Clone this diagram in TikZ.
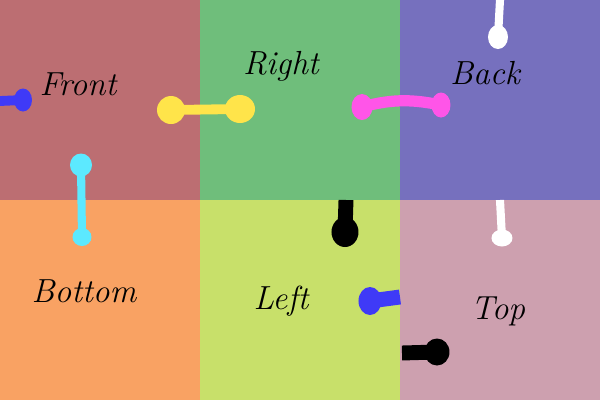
\documentclass[tikz,border=0pt]{standalone}
\usepackage{tikz}
\usetikzlibrary{positioning,calc}
\definecolor{frontred}{HTML}{BC6E72}
\definecolor{rightgreen}{HTML}{6FBE7B}
\definecolor{backblue}{HTML}{7670BE}
\definecolor{bottomorange}{HTML}{F9A263}
\definecolor{leftlime}{HTML}{C8E06A}
\definecolor{toppink}{HTML}{CDA0AF}
\definecolor{pinblue}{HTML}{3F3AF7}
\definecolor{pinyellow}{HTML}{FFE44A}
\definecolor{pinpink}{HTML}{FF55E8}
\definecolor{pincyan}{HTML}{5CE9FF}
\newcommand{\handfont}{\fontsize{19}{22}\selectfont\itshape}

\begin{document}
\begin{tikzpicture}[x=0.02cm,y=-0.02cm]
  \path[use as bounding box] (0,0) rectangle (600,400);
  \tikzset{
    face/.style={draw=none,minimum width=4cm,minimum height=4cm,inner sep=0pt,outer sep=0pt},
    facelbl/.style={font=\handfont,text=black,inner sep=0pt},
    pin/.style={line width=5.6pt,line cap=round},
    fatpin/.style={line width=8.5pt,line cap=butt}
  }
  % faces of the cube
  \node[face,fill=frontred] (front) at (100,100) {};
  \node[face,fill=rightgreen] (right) at (300,100) {};
  \node[face,fill=backblue] (back) at (500,100) {};
  \node[face,fill=bottomorange] (bottom) at (100,300) {};
  \node[face,fill=leftlime] (left) at (300,300) {};
  \node[face,fill=toppink] (top) at (500,300) {};

  \node[facelbl] (frontlbl) at (78,84) {Front};
  \node[facelbl] (rightlbl) at (281,66) {Right};
  \node[facelbl] (backlbl) at (485,73) {Back};
  \node[facelbl] (bottomlbl) at (84,291) {Bottom};
  \node[facelbl] (leftlbl) at (281,301) {Left};
  \node[facelbl] (toplbl) at (498,311) {Top};

  % pin ends
  \coordinate (b1) at (0,101);
  \coordinate (b2) at (23,100);
  \coordinate (y1) at (171,110);
  \coordinate (y2) at (240,109);
  \coordinate (p1) at (362,107);
  \coordinate (p2) at (441,105);
  \coordinate (w1) at (500,0);
  \coordinate (w2) at (498,37);
  \coordinate (c1) at (81,165);
  \coordinate (c2) at (82,237);
  \coordinate (k1) at (346,200);
  \coordinate (k2) at (345,232);
  \coordinate (u1) at (400,297);
  \coordinate (u2) at (370,301);
  \coordinate (d1) at (402,353);
  \coordinate (d2) at (437,352);
  \coordinate (v1) at (500,200);
  \coordinate (v2) at (502,238);

  \draw[pin,line cap=butt,pinblue] (b1) -- (b2);
  \fill[pinblue] (b2) ellipse (9 and 11.5);
  \draw[pin,pinyellow] (y1) -- (y2);
  \fill[pinyellow] (y1) circle (14);
  \fill[pinyellow] (y2) ellipse (15 and 14);
  \draw[pin,line width=6.4pt,pinpink] (p1) .. controls (395,98) and (415,100) .. (p2);
  \fill[pinpink] (p1) ellipse (10.5 and 13);
  \fill[pinpink] (p2) ellipse (9.5 and 12.5);
  \draw[pin,line width=4.6pt,line cap=butt,white] (w1) -- (w2);
  \fill[white] (w2) ellipse (10 and 12);
  \draw[pin,line width=4.6pt,pincyan] (c1) -- (c2);
  \fill[pincyan] (c1) ellipse (11 and 11.5);
  \fill[pincyan] (c2) ellipse (9.5 and 9);
  \draw[fatpin,black] (k1) -- (k2);
  \fill[black] (k2) ellipse (13.5 and 15);
  \draw[fatpin,pinblue] (u1) -- (u2);
  \fill[pinblue] (u2) ellipse (11.5 and 14);
  \draw[fatpin,black] (d1) -- (d2);
  \fill[black] (d2) ellipse (12.5 and 13.5);
  \draw[pin,line width=4.6pt,line cap=butt,white] (v1) -- (v2);
  \fill[white] (v2) ellipse (10.5 and 8.5);
\end{tikzpicture}
\end{document}
